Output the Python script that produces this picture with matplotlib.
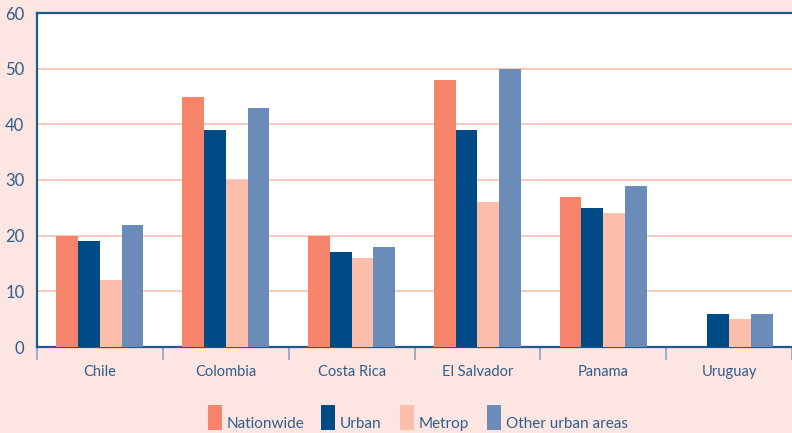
import numpy as np
import matplotlib
matplotlib.use('Agg')
import matplotlib.pyplot as plt
from matplotlib.patches import Rectangle

# ─── Дані ────────────────────────────────────────────────────────────────────
countries = ["Chile", "Colombia", "Costa Rica", "El Salvador", "Panama", "Uruguay"]
nationwide = [20, 45, 20, 48, 27, np.nan]
urban = [19, 39, 17, 39, 25, 6]
metrop = [12, 30, 16, 26, 24, 5]
other_urban = [22, 43, 18, 50, 29, 6]

series = [
    ("Nationwide", nationwide, "#F5846B"),
    ("Urban", urban, "#004A85"),
    ("Metrop", metrop, "#FBBEAB"),
    ("Other urban areas", other_urban, "#6B8CB8"),
]

BG = "#FDE6E2"
TXT = "#2F5D8C"
SPINE = "#1F5A8F"
W, H = 792, 433

plt.rcParams['font.family'] = ['Lato', 'DejaVu Sans']

fig = plt.figure(figsize=(W / 100, H / 100), dpi=100, facecolor=BG)
ax = fig.add_axes([37 / W, 86 / H, 1 - 37 / W, 334 / H])
ax.set_facecolor("white")

x = np.arange(len(countries))
w = 0.173
for i, (name, vals, col) in enumerate(series):
    ax.bar(x + (i - 1.5) * w, vals, width=w, color=col, label=name, zorder=3)

ax.set_xlim(-0.5, len(countries) - 0.5)
ax.set_ylim(0, 60)
ax.set_yticks(range(0, 61, 10))
ax.tick_params(axis='y', length=0, pad=9, labelsize=12, labelcolor=TXT)

for yv in range(10, 60, 10):
    ax.axhline(yv, color="#F9C6B9", linewidth=1.3, zorder=1)

ax.set_xticks(np.arange(-0.5, len(countries), 1.0))
ax.set_xticklabels([])
ax.tick_params(axis='x', which='major', length=9, width=1.2, color="#8AA3C4", direction='out')
ax.set_xticks(x, minor=True)
ax.set_xticklabels(countries, minor=True)
ax.tick_params(axis='x', which='minor', length=0, pad=13, labelsize=10.5, labelcolor=TXT)

for s in ["left", "bottom", "top"]:
    ax.spines[s].set_color(SPINE)
    ax.spines[s].set_linewidth(1.6)
ax.spines["right"].set_visible(False)

# легенда: високі квадрати, текст по нижньому краю
legend_x = [208, 321, 400, 487]
for (name, _, col), lx in zip(series, legend_x):
    fig.add_artist(Rectangle((lx / W, 3 / H), 14 / W, 25 / H,
                             transform=fig.transFigure, facecolor=col,
                             edgecolor='none'))
    fig.text((lx + 19) / W, 5 / H, name, fontsize=11, color=TXT,
             ha='left', va='baseline')

fig.savefig("out.png", dpi=100, facecolor=BG)
